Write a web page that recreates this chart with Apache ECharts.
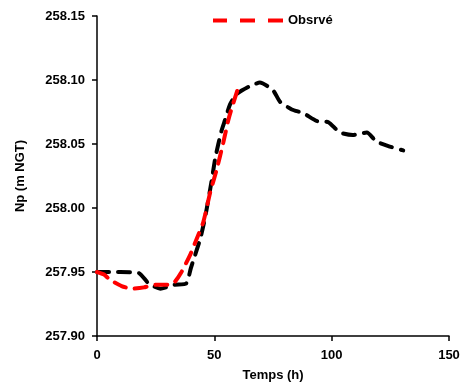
<!DOCTYPE html>
<html><head><meta charset="utf-8">
<script src="https://cdn.jsdelivr.net/npm/echarts@6/dist/echarts.min.js"></script>
<style>html,body{margin:0;padding:0;background:#fff}#c{width:468px;height:387px}</style>
</head><body><div id="c"></div>
<script>
var simX = [0,10,18,22,27,33,38,40,44,46,47.5,49,50.5,53,54.6,56.7,59.5,65,69.4,75,78,83,88,93.6,98.6,103.5,109,115,119,124.8,130.5];
var simY = [257.95,257.95,257.949,257.941,257.937,257.940,257.941,257.953,257.976,257.992,258.007,258.023,258.040,258.060,258.069,258.081,258.089,258.095,258.098,258.092,258.083,258.077,258.074,258.068,258.067,258.059,258.057,258.059,258.052,258.048,258.045];
var obsX = [0,3,5.5,10.5,15,20,25,30,33,36,39.6,42.5,45.3,48.2,51,53.8,56,57.4,60.2];
var obsY = [257.95,257.948,257.944,257.939,257.937,257.938,257.940,257.940,257.942,257.950,257.963,257.976,257.989,258.012,258.030,258.051,258.069,258.078,258.094];
var xTicks = [0,50,100,150];
var yTicks = [257.90,257.95,258.00,258.05,258.10,258.15];

function pairs(xs, ys){ return xs.map(function(x,i){return [x, ys[i]];}); }
var font = 'Liberation Sans';
var chart = echarts.init(document.getElementById('c'));
chart.setOption({
  animation: false,
  grid: {left: 97, right: 19, top: 16, bottom: 49, containLabel: false},
  legend: {
    data: [{name: 'Obsrvé', icon: 'path://M0,0H14V4H0Z M27,0H42V4H27Z M55,0H70V4H55Z', itemStyle: {color: '#ff0000'}}],
    top: 9, left: 208, itemWidth: 70, itemHeight: 4, itemGap: 6,
    textStyle: {fontFamily: font, fontWeight: 'bold', fontSize: 13, color: '#000'}
  },
  xAxis: {
    type: 'value', min: xTicks[0], max: xTicks[xTicks.length-1], interval: 50,
    name: 'Temps (h)', nameLocation: 'middle', nameGap: 33,
    nameTextStyle: {fontFamily: font, fontWeight: 'bold', fontSize: 13, color: '#000'},
    axisLine: {lineStyle: {color: '#000', width: 1.5}},
    axisTick: {show: true, inside: false, length: 5, lineStyle: {color: '#000', width: 1.5}},
    axisLabel: {fontFamily: font, fontWeight: 'bold', fontSize: 13, color: '#000', margin: 13},
    splitLine: {show: false}
  },
  yAxis: {
    type: 'value', min: yTicks[0], max: yTicks[yTicks.length-1], interval: 0.05,
    name: 'Np (m NGT)', nameLocation: 'middle', nameGap: 70, nameRotate: 90,
    nameTextStyle: {fontFamily: font, fontWeight: 'bold', fontSize: 13, color: '#000'},
    axisLine: {show: true, lineStyle: {color: '#000', width: 1.5}},
    axisTick: {show: true, inside: false, length: 5, lineStyle: {color: '#000', width: 1.5}},
    axisLabel: {fontFamily: font, fontWeight: 'bold', fontSize: 13, color: '#000', margin: 12,
      formatter: function(v){ return v.toFixed(2); }},
    splitLine: {show: false}
  },
  series: [
    {name: 'Simulé', type: 'line', data: pairs(simX, simY), symbol: 'none', smooth: 0.2,
     lineStyle: {color: '#000', width: 4, type: [12, 9], cap: 'round'}, z: 2},
    {name: 'Obsrvé', type: 'line', data: pairs(obsX, obsY), symbol: 'none', smooth: 0.2,
     itemStyle: {color: '#ff0000'},
     lineStyle: {color: '#ff0000', width: 4, type: [12, 9], cap: 'round'}, z: 3}
  ]
});
</script></body></html>
